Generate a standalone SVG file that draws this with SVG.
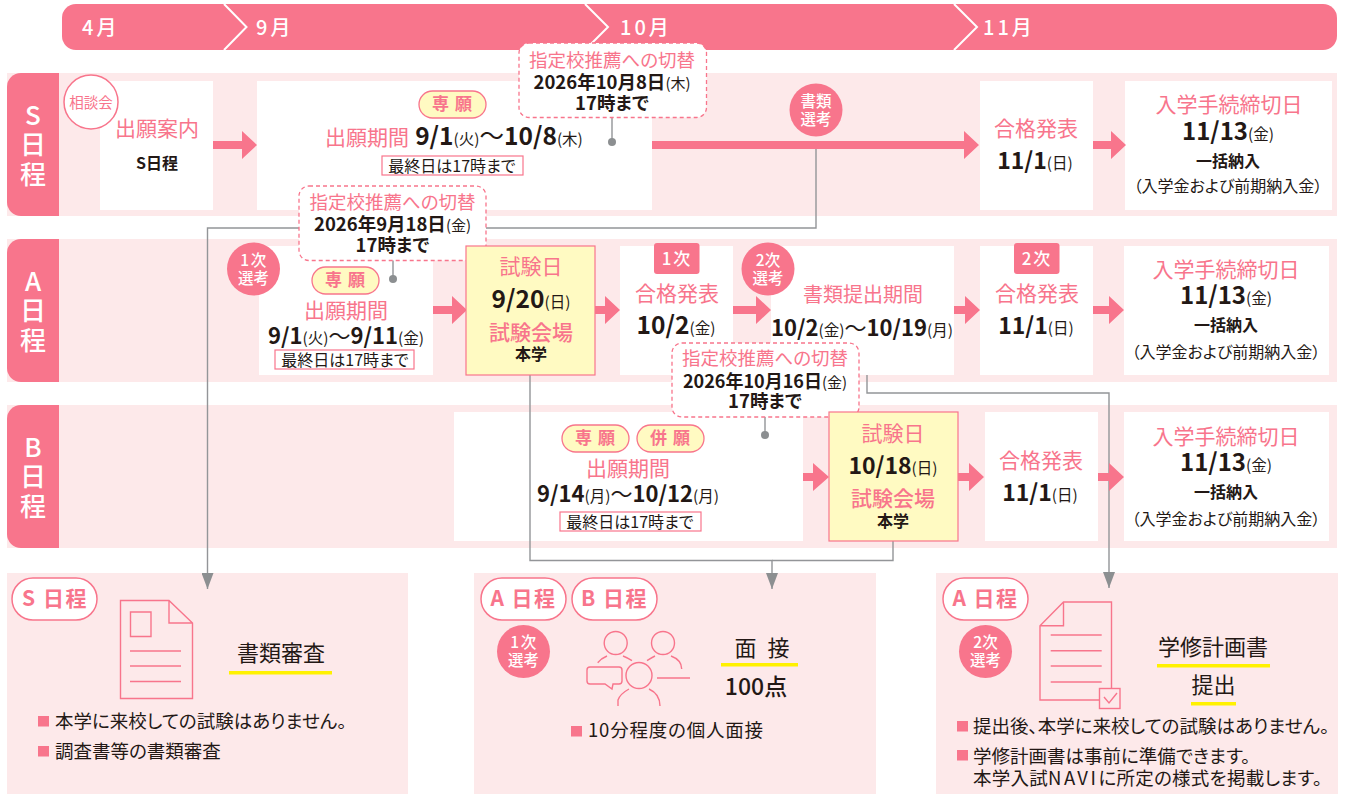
<svg xmlns="http://www.w3.org/2000/svg" width="1345" height="794" viewBox="0 0 1345 794">
<style>
text{font-family:"Noto Sans CJK JP","Noto Sans",sans-serif;text-anchor:middle;fill:#231815;font-feature-settings:"palt"}
.bg{fill:#fde9ea}.tab{fill:#f8758c}.box{fill:#fff}.yb{fill:#fffac2;stroke:#f8758c;stroke-width:1.2}
.p{fill:#f8758c}
.h{font-size:20px;fill:#fff;font-weight:500;text-anchor:start;letter-spacing:3px}
.t{font-size:21px;fill:#f8758c}
.d{font-size:23px;font-weight:700}.s{font-size:15.500px;font-weight:400}.w{font-weight:400}
.d25{font-size:24.500px}.d22{font-size:22px}
.c1{font-size:18.500px;fill:#f8758c}.c2{font-size:18.500px;font-weight:700}.cs{font-size:15px;font-weight:400}
.m{font-size:16px}.ss{font-size:16px;font-weight:700}
.tabt{font-size:26px;fill:#fff;font-weight:500}
.pill{fill:#fff;stroke:#f8758c;stroke-width:1.500}.yp{fill:#fffac2;stroke:#f8758c;stroke-width:1.300}
.pt{font-size:17px;fill:#f8758c;font-weight:700;letter-spacing:1px}
.ct{font-size:15.500px;fill:#fff;font-weight:500}
.rt{font-size:17px;fill:#fff;font-weight:500}
.callout{fill:#fff;stroke:#f8758c;stroke-width:1.300;stroke-dasharray:4 3}
.conn{fill:none;stroke:#939598;stroke-width:1.400}
.ln{fill:none;stroke:#f8758c;stroke-width:1.400}
.note{font-size:18.500px;text-anchor:start}
.big{font-size:22px}
.tag{font-size:21px;fill:#f8758c;font-weight:700;letter-spacing:1.500px}
.ul{fill:#fff100}.fr{fill:#fff;stroke:#f8758c;stroke-width:1.200}
</style>
<defs><marker id="ah" markerWidth="16" markerHeight="12" refX="16" refY="6" orient="auto" markerUnits="userSpaceOnUse" viewBox="0 0 16 12"><path d="M0 0L16 6L0 12Z" fill="#8c8f91"/></marker></defs>
<g id="header"><path class="tab" d="M76 4H1323a14 14 0 0 1 14 14V36a14 14 0 0 1-14 14H76a14 14 0 0 1-14-14V18a14 14 0 0 1 14-14Z"/>
<path d="M224 4L246.500 27L224 50M585 4L608 27L585 50M954 4L977 27L954 50" fill="none" stroke="#fff" stroke-width="2"/>
<text class="h" x="82" y="35">4月</text><text class="h" x="256" y="35">9月</text><text class="h" x="620" y="35">10月</text><text class="h" x="983" y="35">11月</text></g>
<g id="row-s"><path class="bg" d="M7 73H1337V216H7Z"/><path class="tab" d="M59 73V216H21a14 14 0 0 1-14-14V87a14 14 0 0 1 14-14Z"/>
<text class="tabt"><tspan x="33" y="125">S</tspan><tspan x="33" y="154">日</tspan><tspan x="33" y="184">程</tspan></text>
<rect class="box" x="100" y="81" width="113" height="129"/><rect class="box" x="257" y="81" width="395" height="129"/><rect class="box" x="980" y="81" width="113" height="129"/><rect class="box" x="1125" y="81" width="207" height="129"/></g>
<g id="row-a"><path class="bg" d="M7 239H1337V382H7Z"/><path class="tab" d="M59 239V382H21a14 14 0 0 1-14-14V253a14 14 0 0 1 14-14Z"/>
<text class="tabt"><tspan x="33" y="291">A</tspan><tspan x="33" y="320">日</tspan><tspan x="33" y="350">程</tspan></text>
<rect class="box" x="259" y="246" width="174" height="129"/><rect class="box" x="620" y="246" width="113" height="129"/><rect class="box" x="771" y="246" width="183" height="129"/><rect class="box" x="980" y="246" width="113" height="129"/><rect class="box" x="1124" y="246" width="205" height="129"/></g>
<g id="row-b"><path class="bg" d="M7 405H1337V548H7Z"/><path class="tab" d="M59 405V548H21a14 14 0 0 1-14-14V419a14 14 0 0 1 14-14Z"/>
<text class="tabt"><tspan x="33" y="457">B</tspan><tspan x="33" y="486">日</tspan><tspan x="33" y="516">程</tspan></text>
<rect class="box" x="454" y="412" width="349" height="129"/><rect class="box" x="985" y="412" width="113" height="129"/><rect class="box" x="1124" y="412" width="205" height="129"/></g>
<g id="panel-s"><rect class="bg" x="7" y="573" width="401" height="221"/><rect class="pill" x="12" y="578" width="85" height="42" rx="21"/><text class="tag" x="55" y="606">S 日程</text>
<path class="ln" d="M120.500 600.500H169L192.500 623V698.500H120.500ZM169 600.500V623H192.500M130.500 612H151V636.500H130.500ZM130 651H181M130 666H181M130 681.500H181"/>
<text class="big" x="281" y="661">書類審査</text><rect class="ul" x="229" y="671" width="103" height="3.500"/>
<rect class="p" x="38" y="716" width="11" height="10.500"/><text class="note" x="55" y="728">本学に来校しての試験はありません。</text>
<rect class="p" x="38" y="746" width="11" height="10.500"/><text class="note" x="55" y="758">調査書等の書類審査</text></g>
<g id="panel-ab"><rect class="bg" x="474" y="573" width="402" height="221"/><rect class="pill" x="481" y="578" width="85" height="42" rx="21"/><text class="tag" x="523.500" y="606">A 日程</text><rect class="pill" x="572" y="578" width="85" height="42" rx="21"/><text class="tag" x="614.500" y="606">B 日程</text>
<circle class="tab" cx="523.500" cy="651.500" r="26.500"/><text class="ct" x="524" y="648" style="letter-spacing:1.500px">1次</text><text class="ct" x="523.500" y="666">選考</text>
<g class="ln"><circle cx="615.700" cy="643" r="11.500"/><circle cx="663" cy="643" r="11.500"/><circle cx="639" cy="675.500" r="13"/><path d="M597.700 662.700Q601 658.500 607 656M623 656Q628 658 632 660.700M647 660.700Q651 658 655 656M671 656Q681.700 660 681.700 669M618 706V700Q620 694 629 689M649 689Q660 694 660 706M657 678H690M590 667H619Q622 667 622 670V681Q622 684 619 684H613L612 689L605 684H590Q587 684 587 681V670Q587 667 590 667Z"/></g>
<text class="big" x="763.500" y="656" style="letter-spacing:3px">面 接</text><rect class="ul" x="721" y="663" width="77" height="3.500"/><text x="756" y="695" style="font-size:23px;font-weight:500">100点</text>
<rect class="p" x="571" y="726" width="11" height="10.500"/><text class="note" x="588" y="737" style="letter-spacing:.8px">10分程度の個人面接</text></g>
<g id="panel-a2"><rect class="bg" x="936" y="573" width="402" height="221"/><rect class="pill" x="943" y="578" width="85" height="42" rx="21"/><text class="tag" x="985.500" y="606">A 日程</text>
<circle class="tab" cx="985.500" cy="651.500" r="26.500"/><text class="ct" x="985.500" y="648">2次</text><text class="ct" x="985.500" y="666">選考</text>
<path class="ln" d="M1111.500 688V602H1063.500L1040 625.700V700H1099M1063.500 602V625.700H1040M1050.700 635H1101.700M1050.700 650.700H1101.700M1050.700 666H1101.700M1050.700 682H1101.700"/>
<rect x="1099.500" y="688.500" width="20.500" height="20" fill="#fde9ea" stroke="#f8758c" stroke-width="1.400"/><path class="ln" d="M1104 697L1109 703L1117 693"/>
<text class="big" x="1213" y="655">学修計画書</text><rect class="ul" x="1157" y="664" width="113" height="3.500"/><text class="big" x="1213.500" y="693">提出</text><rect class="ul" x="1191" y="702" width="45" height="3.500"/>
<rect class="p" x="957" y="721" width="11" height="10.500"/><text class="note" x="973" y="733">提出後、本学に来校しての試験はありません。</text>
<rect class="p" x="957" y="750" width="11" height="10.500"/><text class="note" x="973" y="763">学修計画書は事前に準備できます。</text><text class="note" x="973" y="785" style="letter-spacing:.25px">本学入試<tspan style="letter-spacing:2.500px">NAVI</tspan>に所定の様式を掲載します。</text></g>
<g id="connectors">
<path class="conn" d="M816 145V228H207.500V589" marker-end="url(#ah)"/>
<path class="conn" d="M530 375V560.500H772V589" marker-end="url(#ah)"/>
<path class="conn" d="M893 541V560.500H772"/>
<path class="conn" d="M867 375V393H1109V588" marker-end="url(#ah)"/>
<path class="conn" d="M612 115V142M393 258V279M765 415V435"/>
<circle cx="612" cy="142" r="4" fill="#8c8f91"/><circle cx="393" cy="279" r="4" fill="#8c8f91"/><circle cx="765" cy="435" r="4" fill="#8c8f91"/>
<g class="p">
<path d="M213 141H242V131L257 145L242 159V149H213Z"/>
<path d="M652 141H964V131L979 145L964 159V149H652Z"/>
<path d="M1093 141H1111V131L1126 145L1111 159V149H1093Z"/>
<path d="M433 306H452V296L467 310L452 324V314H433Z"/>
<path d="M595 306H605V296L620 310L605 324V314H595Z"/>
<path d="M733 306H756V296L771 310L756 324V314H733Z"/>
<path d="M954 306H965V296L980 310L965 324V314H954Z"/>
<path d="M1093 306H1109V296L1124 310L1109 324V314H1093Z"/>
<path d="M803 473H813V463L829 477L813 491V481H803Z"/>
<path d="M958 473H969V463L984 477L969 491V481H958Z"/>
<path d="M1098 473H1109V463L1124 477L1109 491V481H1098Z"/>
</g></g>
<g id="n-s-guide"><circle class="pill" cx="91" cy="102" r="27"/><text x="91" y="108" style="font-size:14.500px;fill:#f8758c">相談会</text>
<text class="t" x="157" y="136">出願案内</text><text class="ss" x="157" y="169">S日程</text></g>
<g id="n-s-period"><rect class="yp" x="419" y="91" width="67" height="27" rx="13.500"/><text class="pt" x="452.500" y="110">専 願</text>
<text class="t" x="367" y="145">出願期間</text><text class="d d25" x="499" y="145">9/1<tspan class="s">(火)</tspan><tspan class="w">～</tspan>10/8<tspan class="s">(木)</tspan></text>
<rect class="fr" x="382" y="156" width="141" height="19"/><text class="m" x="452" y="172">最終日は17時まで</text></g>
<g id="n-s-doc"><circle class="tab" cx="816" cy="110" r="26.500"/><text class="ct" x="816" y="107">書類</text><text class="ct" x="816" y="125">選考</text></g>
<g id="n-s-result"><text class="t" x="1036" y="136">合格発表</text><text class="d" x="1035" y="169">11/1<tspan class="s">(日)</tspan></text></g>
<g id="n-s-proc"><text class="t" x="1229" y="112">入学手続締切日</text><text class="d" x="1228" y="140" style="font-size:24px">11/13<tspan class="s">(金)</tspan></text><text class="ss" x="1228" y="167">一括納入</text><text class="m" x="1228" y="192">（入学金および前期納入金）</text></g>
<g id="callout-1"><rect class="callout" x="519" y="43" width="187.500" height="74.500" rx="10"/><text class="c1" x="612" y="67">指定校推薦への切替</text><text class="c2" x="612" y="89">2026年10月8日<tspan class="cs">(木)</tspan></text><text class="c2" x="612" y="110">17時まで</text></g>
<g id="callout-2"><rect class="callout" x="299" y="186" width="187" height="74.500" rx="10"/><text class="c1" x="392.500" y="209">指定校推薦への切替</text><text class="c2" x="392.500" y="231">2026年9月18日<tspan class="cs">(金)</tspan></text><text class="c2" x="392.500" y="252">17時まで</text></g>
<g id="n-a-period"><circle class="tab" cx="253.500" cy="269" r="26.500"/><text class="ct" x="254" y="266" style="letter-spacing:1.500px">1次</text><text class="ct" x="253.500" y="284">選考</text>
<rect class="yp" x="312" y="267" width="67" height="27" rx="13.500"/><text class="pt" x="345.500" y="286">専 願</text>
<text class="t" x="346" y="318">出願期間</text><text class="d d22" x="346" y="344">9/1<tspan class="s">(火)</tspan><tspan class="w">～</tspan>9/11<tspan class="s">(金)</tspan></text>
<rect class="fr" x="275" y="350" width="139" height="19"/><text class="m" x="345" y="366">最終日は17時まで</text></g>
<g id="n-a-exam"><rect class="yb" x="466" y="246" width="129" height="129"/><text class="t" x="531" y="274">試験日</text><text class="d d25" x="531" y="308">9/20<tspan class="s">(日)</tspan></text><text class="t" x="531" y="340" style="font-weight:500">試験会場</text><text class="ss" x="531" y="360">本学</text></g>
<g id="n-a-result1"><rect class="tab" x="654" y="243" width="45.500" height="31" rx="3"/><text class="rt" x="677" y="265" style="letter-spacing:2px">1次</text><text class="t" x="677" y="301">合格発表</text><text class="d d25" x="676" y="334">10/2<tspan class="s">(金)</tspan></text></g>
<g id="n-a-doc"><circle class="tab" cx="768" cy="269" r="26.500"/><text class="ct" x="768" y="266">2次</text><text class="ct" x="768" y="284">選考</text><text class="t" x="863" y="302" style="font-size:20px">書類提出期間</text><text class="d d22" x="862" y="336">10/2<tspan class="s">(金)</tspan><tspan class="w">～</tspan>10/19<tspan class="s">(月)</tspan></text></g>
<g id="n-a-result2"><rect class="tab" x="1014" y="243" width="45.500" height="31" rx="3"/><text class="rt" x="1037" y="265" style="letter-spacing:2px">2次</text><text class="t" x="1037" y="301">合格発表</text><text class="d" x="1036" y="334">11/1<tspan class="s">(日)</tspan></text></g>
<g id="n-a-proc"><text class="t" x="1226" y="277">入学手続締切日</text><text class="d" x="1226" y="304" style="font-size:24px">11/13<tspan class="s">(金)</tspan></text><text class="ss" x="1226" y="331">一括納入</text><text class="m" x="1226" y="358">（入学金および前期納入金）</text></g>
<g id="callout-3"><rect class="callout" x="672" y="343" width="187" height="74" rx="10"/><text class="c1" x="765" y="365">指定校推薦への切替</text><text class="c2" x="765" y="388" style="font-size:18px">2026年10月16日<tspan class="cs">(金)</tspan></text><text class="c2" x="765" y="408">17時まで</text></g>
<g id="n-b-period"><rect class="yp" x="562" y="425" width="67" height="27" rx="13.500"/><text class="pt" x="595.500" y="444">専 願</text><rect class="yp" x="637" y="425" width="67" height="27" rx="13.500"/><text class="pt" x="670.500" y="444">併 願</text>
<text class="t" x="628" y="476">出願期間</text><text class="d d22" x="628" y="502">9/14<tspan class="s">(月)</tspan><tspan class="w">～</tspan>10/12<tspan class="s">(月)</tspan></text>
<rect class="fr" x="560" y="512" width="141" height="19"/><text class="m" x="630" y="528">最終日は17時まで</text></g>
<g id="n-b-exam"><rect class="yb" x="829" y="412" width="129" height="129"/><text class="t" x="893" y="441">試験日</text><text class="d" x="893" y="474">10/18<tspan class="s">(日)</tspan></text><text class="t" x="893" y="506" style="font-weight:500">試験会場</text><text class="ss" x="893" y="527">本学</text></g>
<g id="n-b-result"><text class="t" x="1041" y="468">合格発表</text><text class="d" x="1040" y="501">11/1<tspan class="s">(日)</tspan></text></g>
<g id="n-b-proc"><text class="t" x="1226" y="444">入学手続締切日</text><text class="d" x="1226" y="471" style="font-size:24px">11/13<tspan class="s">(金)</tspan></text><text class="ss" x="1226" y="498">一括納入</text><text class="m" x="1226" y="525">（入学金および前期納入金）</text></g>
</svg>
